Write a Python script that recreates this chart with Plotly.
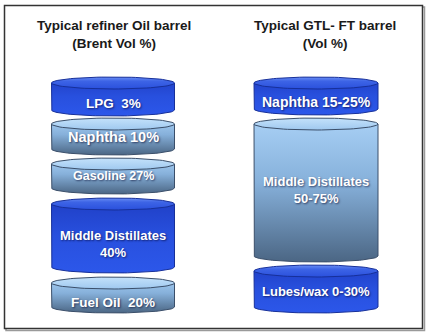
import numpy as np
import plotly.graph_objects as go

# ---------------- data ----------------
left_title = "Typical refiner Oil barrel<br>(Brent Vol %)"
right_title = "Typical GTL- FT barrel<br>(Vol %)"

left_labels = ["LPG  3%", "Naphtha 10%", "Gasoline 27%", "Middle Distillates<br>40%", "Fuel Oil  20%"]
left_segment_heights = [39, 37, 36, 75, 36]

right_labels = ["Naphtha 15-25%", "Middle Distillates<br>50-75%", "Lubes/wax 0-30%"]
right_segment_heights = [38, 144, 48]

# ---------------- styling / layout ----------------
W, H = 429, 334
STYLES = {
    "blue": dict(body=[[0, "#1f3ec4"], [0.5, "#2850de"], [1, "#2c57ea"]],
                 cap=[[0, "#6a8ef4"], [0.35, "#3d64e6"], [1, "#2a50dc"]],
                 line="#17309a"),
    "steel": dict(body=[[0, "#a9d1f6"], [0.45, "#86b0da"], [1, "#4b6684"]],
                  cap=[[0, "#c4e2fb"], [1, "#9fc8ef"]],
                  line="#3b4f6a"),
}
left_styles = ["blue", "steel", "steel", "blue", "steel"]
right_styles = ["blue", "steel", "blue"]
left_font = [13.5, 14.5, 12.5, 13, 13.5]
right_font = [14, 13, 13]
left_text_offset = [6.5, 0, 0, 8, 7]
right_text_offset = [6, 0, 2]

fig = go.Figure()
annotations = []


def add_stack(cx, top, half_w, gaps, heights, labels, styles, fonts, offsets):
    b = 6.0
    y = top
    for i, (h, lab, st, fs, off) in enumerate(zip(heights, labels, styles, fonts, offsets)):
        yt, yb = y, y + h
        s = STYLES[st]
        # body: sides + bottom front arc
        t = np.linspace(np.pi, 0, 60)
        xs = [cx - half_w] + list(cx + half_w * np.cos(t)) + [cx + half_w, cx - half_w]
        ys = [yt + b] + list((yb - b) + b * np.sin(t)) + [yt + b, yt + b]
        fig.add_trace(go.Scatter(
            x=xs, y=ys, mode="lines", fill="toself",
            line=dict(color=s["line"], width=1),
            fillgradient=dict(type="vertical", colorscale=s["body"], start=yt, stop=yb),
            hoverinfo="skip", showlegend=False))
        # top cap ellipse
        t2 = np.linspace(0, 2 * np.pi, 90)
        fig.add_trace(go.Scatter(
            x=list(cx + half_w * np.cos(t2)), y=list(yt + b + b * np.sin(t2)),
            mode="lines", fill="toself",
            line=dict(color=s["line"], width=1),
            fillgradient=dict(type="vertical", colorscale=s["cap"], start=yt, stop=yt + 2 * b),
            hoverinfo="skip", showlegend=False))
        annotations.append(dict(
            x=cx, y=(yt + yb) / 2 + off, xref="x", yref="y",
            text="<b>" + lab + "</b>", showarrow=False,
            font=dict(family="Liberation Sans, Arial", size=fs, color="white",
                      shadow="1px 1px 2px rgba(0,0,40,0.6)"),
            align="center"))
        y = yb + (gaps[i] if i < len(gaps) else 0)


add_stack(113, 77, 61.5, [2, 3, 4, 4], left_segment_heights, left_labels,
          left_styles, left_font, left_text_offset)
add_stack(316, 77, 62, [3, 3], right_segment_heights, right_labels,
          right_styles, right_font, right_text_offset)

annotations.append(dict(x=114, y=34, xref="x", yref="y", text="<b>" + left_title + "</b>",
                        showarrow=False, align="center",
                        font=dict(family="Liberation Sans, Arial", size=13.5, color="#1a1a1a")))
annotations.append(dict(x=325, y=34, xref="x", yref="y", text="<b>" + right_title + "</b>",
                        showarrow=False, align="center",
                        font=dict(family="Liberation Sans, Arial", size=13.5, color="#1a1a1a")))

shapes = [
    dict(type="rect", xref="x", yref="y", x0=6, y0=7, x1=424.5, y1=330.5,
         line=dict(color="#9a9a9a", width=1.5), layer="below"),
    dict(type="rect", xref="x", yref="y", x0=4.5, y0=5.5, x1=422.5, y1=328.5,
         line=dict(color="#333333", width=1.5), fillcolor="white", layer="below"),
]

fig.update_layout(
    width=W, height=H, margin=dict(l=0, r=0, t=0, b=0),
    paper_bgcolor="white", plot_bgcolor="white",
    xaxis=dict(range=[0, W], visible=False, fixedrange=True),
    yaxis=dict(range=[H, 0], visible=False, fixedrange=True),
    annotations=annotations, shapes=shapes, showlegend=False,
)
fig.write_html("out.html")
